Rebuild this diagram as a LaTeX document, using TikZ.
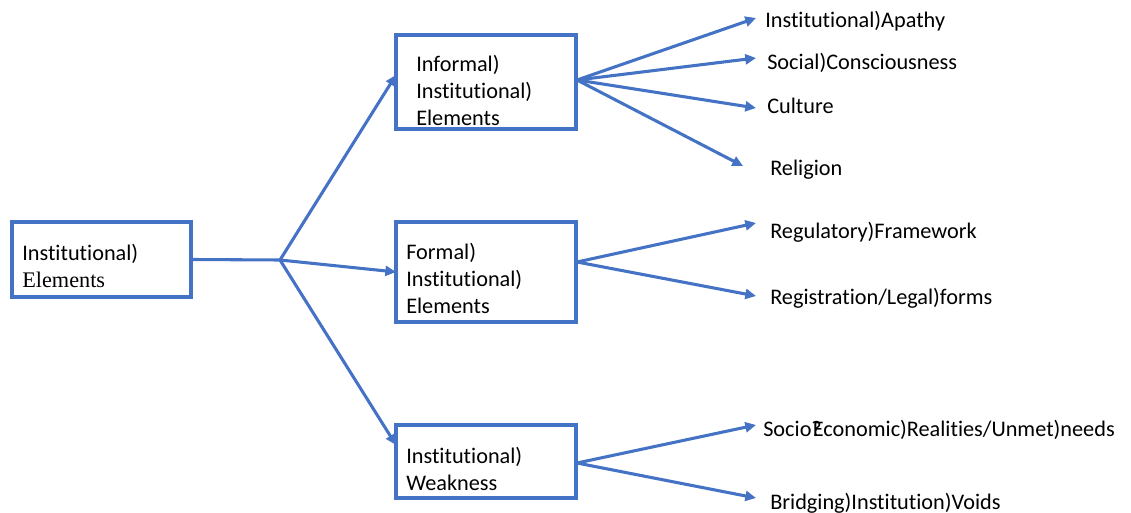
\documentclass[tikz,border=0pt]{standalone}
\usepackage{fontspec}
\setmainfont{Carlito}[Ligatures=NoCommon]
\newfontfamily\timesfont{Liberation Serif}
\usetikzlibrary{arrows.meta}
\definecolor{blu}{HTML}{4472C4}
\begin{document}
\begin{tikzpicture}[x=0.75pt,y=-0.75pt,
  box/.style={draw=blu,line width=2.3pt,inner sep=0pt,minimum width=135pt},
  txt/.style={anchor=west,inner sep=0pt,align=left,font=\fontsize{16.7}{20.25}\selectfont},
  conn/.style={draw=blu,line width=2.3pt},
  arr/.style={conn,-{Triangle[length=8pt,width=7.5pt]}}]
\useasboundingbox (0,0) rectangle (1131,513);
% boxes
\node[box,minimum width=134.25pt,minimum height=56.25pt] (root) at (101.5,259.5) {};
\node[box,minimum height=70.5pt] (inf) at (486,82) {};
\node[box,minimum height=75pt] (form) at (486,272) {};
\node[box,minimum height=54.75pt] (weak) at (486,461.5) {};
% box texts
\node[txt] (roott) at (22,265.5) {Institutional)\\{\timesfont Elements}};
\node[txt] (inft) at (416,90.5) {Informal)\\Institutional)\\Elements};
\node[txt] (formt) at (406,278.5) {Formal)\\Institutional)\\Elements};
\node[txt] (weakt) at (406,468.5) {Institutional)\\Weakness};
% branch
\coordinate (br) at (280,260);
\draw[conn] (root.east) -- (br);
\coordinate (t1) at (396,75);
\coordinate (t2) at (396,272);
\coordinate (t3) at (396,445);
\draw[arr] (br) -- (t1);
\draw[arr] (br) -- (t2);
\draw[arr] (br) -- (t3);
% leaf labels
\node[txt] (l1) at (765,21.5) {Institutional)Apathy};
\node[txt] (l2) at (767,62.5) {Social)Consciousness};
\node[txt] (l3) at (767,105.5) {Culture};
\node[txt] (l4) at (770,169.5) {Religion};
\node[txt] (l5) at (770,232.5) {Regulatory)Framework};
\node[txt] (l6) at (770,298.5) {Registration/Legal)forms};
\node[txt] (l7) at (763,429.5) {Socio?\kern-0.4em Economic)Realities/Unmet)needs};
\node[txt] (l8) at (770,503.5) {Bridging)Institution)Voids};
% leaf arrow tips
\coordinate (a1) at (756,18);
\coordinate (a2) at (756,58);
\coordinate (a3) at (756,108);
\coordinate (a4) at (743,166);
\coordinate (a5) at (756,223);
\coordinate (a6) at (756,296);
\coordinate (a7) at (756,425);
\coordinate (a8) at (756,498);
\coordinate (fi) at (577,80);
\coordinate (ff) at (577,262);
\coordinate (fw) at (577,463);
\foreach \t in {a1,a2,a3,a4} \draw[arr] (fi) -- (\t);
\foreach \t in {a5,a6} \draw[arr] (ff) -- (\t);
\foreach \t in {a7,a8} \draw[arr] (fw) -- (\t);
\end{tikzpicture}
\end{document}
